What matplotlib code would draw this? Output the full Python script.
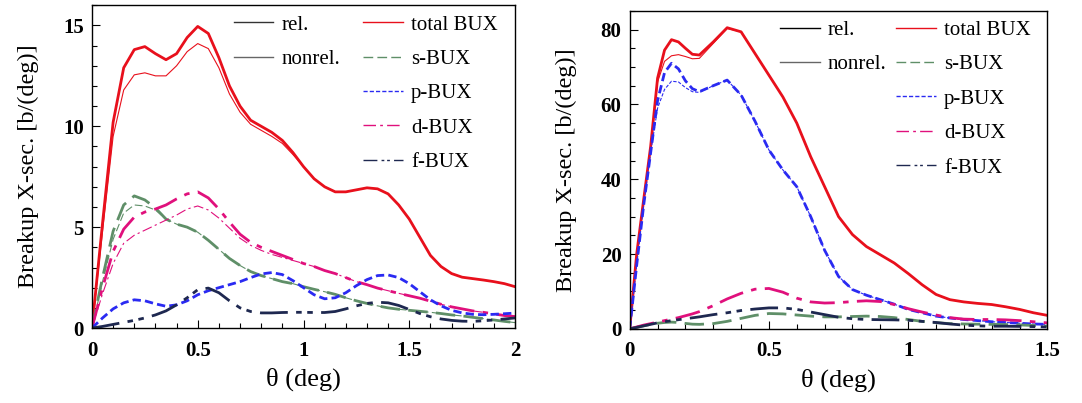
import matplotlib

matplotlib.use("Agg")
import matplotlib.pyplot as plt  # noqa: E402
from matplotlib.lines import Line2D  # noqa: E402
from matplotlib.ticker import MultipleLocator  # noqa: E402

plt.rcParams["font.family"] = ["Liberation Serif", "DejaVu Serif"]

# ---- left panel data (theta in deg, b/deg) ----
theta_l = [0, 0.05, 0.1, 0.15, 0.2, 0.25, 0.3, 0.35, 0.4, 0.45, 0.5, 0.55, 0.6, 0.65,
           0.7, 0.75, 0.8, 0.85, 0.9, 0.95, 1.0, 1.05, 1.1, 1.15, 1.2, 1.25, 1.3, 1.35,
           1.4, 1.45, 1.5, 1.55, 1.6, 1.65, 1.7, 1.75, 1.8, 1.85, 1.9, 1.95, 2.0]
total_rel_l = [0, 5.2, 10.2, 12.9, 13.8, 13.95, 13.6, 13.3, 13.6, 14.4, 14.95, 14.6, 13.4, 12.0,
               11.0, 10.3, 10.0, 9.7, 9.3, 8.7, 8.0, 7.4, 7.0, 6.75, 6.75, 6.85, 6.95, 6.9,
               6.65, 6.1, 5.4, 4.5, 3.6, 3.05, 2.7, 2.52, 2.45, 2.38, 2.3, 2.2, 2.05]
total_non_l = [0, 4.8, 9.5, 11.8, 12.55, 12.65, 12.5, 12.5, 13.0, 13.7, 14.1, 13.85, 12.9, 11.6,
               10.7, 10.1, 9.8, 9.5, 9.15, 8.6, 8.0, 7.4, 7.0, 6.75, 6.75, 6.85, 6.95, 6.9,
               6.65, 6.1, 5.4, 4.5, 3.6, 3.05, 2.7, 2.52, 2.45, 2.38, 2.3, 2.2, 2.05]
s_rel_l = [0, 2.5, 4.8, 6.1, 6.55, 6.35, 5.95, 5.4, 5.15, 5.0, 4.75, 4.35, 3.9, 3.45,
           3.1, 2.8, 2.6, 2.45, 2.3, 2.2, 2.05, 1.92, 1.8, 1.67, 1.5, 1.35, 1.22, 1.1,
           1.0, 0.93, 0.88, 0.83, 0.78, 0.72, 0.65, 0.6, 0.53, 0.47, 0.4, 0.33, 0.27]
s_non_l = [0, 2.3, 4.4, 5.7, 6.1, 6.05, 5.85, 5.4, 5.15, 5.0, 4.75, 4.35, 3.9, 3.45,
           3.1, 2.8, 2.6, 2.45, 2.3, 2.2, 2.05, 1.92, 1.8, 1.67, 1.5, 1.35, 1.22, 1.1,
           1.0, 0.93, 0.88, 0.83, 0.78, 0.72, 0.65, 0.6, 0.53, 0.47, 0.4, 0.33, 0.27]
p_rel_l = [0, 0.5, 0.95, 1.25, 1.4, 1.35, 1.2, 1.08, 1.15, 1.35, 1.65, 1.85, 2.0, 2.15,
           2.3, 2.5, 2.68, 2.75, 2.65, 2.35, 2.0, 1.65, 1.45, 1.5, 1.75, 2.1, 2.4, 2.6,
           2.63, 2.5, 2.2, 1.8, 1.4, 1.1, 0.88, 0.75, 0.68, 0.66, 0.68, 0.71, 0.74]
d_rel_l = [0, 2.0, 3.8, 4.9, 5.5, 5.75, 5.9, 6.1, 6.4, 6.65, 6.75, 6.45, 5.9, 5.25,
           4.65, 4.25, 4.0, 3.8, 3.6, 3.4, 3.2, 3.05, 2.85, 2.7, 2.5, 2.3, 2.15, 1.98,
           1.85, 1.72, 1.6, 1.48, 1.33, 1.18, 1.05, 0.95, 0.85, 0.78, 0.7, 0.62, 0.57]
d_non_l = [0, 1.7, 3.2, 4.2, 4.6, 4.85, 5.1, 5.35, 5.6, 5.9, 6.05, 5.85, 5.45, 4.95,
           4.45, 4.1, 3.85, 3.65, 3.5, 3.35, 3.2, 3.05, 2.85, 2.7, 2.5, 2.3, 2.15, 1.98,
           1.85, 1.72, 1.6, 1.48, 1.33, 1.18, 1.05, 0.95, 0.85, 0.78, 0.7, 0.62, 0.57]
f_rel_l = [0, 0.08, 0.18, 0.28, 0.38, 0.5, 0.65, 0.85, 1.15, 1.5, 1.9, 1.98, 1.75, 1.35,
           1.0, 0.82, 0.75, 0.75, 0.77, 0.78, 0.78, 0.77, 0.77, 0.82, 0.95, 1.1, 1.22, 1.28,
           1.25, 1.12, 0.92, 0.72, 0.56, 0.45, 0.38, 0.34, 0.33, 0.36, 0.4, 0.45, 0.5]

# ---- right panel data ----
theta_r = [0, 0.025, 0.05, 0.075, 0.1, 0.125, 0.15, 0.175, 0.2, 0.225, 0.25, 0.3, 0.35,
           0.4, 0.45, 0.5, 0.55, 0.6, 0.65, 0.7, 0.75, 0.8, 0.85, 0.9, 0.95, 1.0, 1.05,
           1.1, 1.15, 1.2, 1.25, 1.3, 1.35, 1.4, 1.45, 1.5]
total_rel_r = [0, 20, 34.5, 48.7, 67, 74.5, 77.3, 76.7, 75.0, 73.4, 73.2, 76.7, 80.5,
               79.4, 73.6, 67.8, 62, 55, 46, 38, 30, 25.2, 22, 19.8, 17.6, 14.8, 11.8,
               9.2, 7.8, 7.2, 6.8, 6.5, 5.9, 5.2, 4.3, 3.6]
total_non_r = [0, 20, 34.5, 48.7, 66, 71.5, 73.0, 73.3, 72.8, 72.2, 72.3, 76.3, 80.3,
               79.4, 73.6, 67.8, 62, 55, 46, 38, 30, 25.2, 22, 19.8, 17.6, 14.8, 11.8,
               9.2, 7.8, 7.2, 6.8, 6.5, 5.9, 5.2, 4.3, 3.6]
p_rel_r = [0, 17, 33, 47, 61, 68.5, 71, 69.5, 66.3, 64.2, 63.4, 65.0, 66.5,
           62.5, 55.5, 47.8, 42.5, 38, 30, 21, 14, 10.5, 9.0, 7.8, 6.6, 5.2, 4.3,
           3.4, 2.9, 2.5, 2.2, 1.9, 1.7, 1.5, 1.3, 1.2]
p_non_r = [0, 17, 33, 47, 59, 64, 66.2, 66.0, 64.5, 63.4, 63.2, 65.0, 66.5,
           62.5, 55.5, 47.8, 42.5, 38, 30, 21, 14, 10.5, 9.0, 7.8, 6.6, 5.2, 4.3,
           3.4, 2.9, 2.5, 2.2, 1.9, 1.7, 1.5, 1.3, 1.2]
s_rel_r = [0, 0.4, 0.8, 1.2, 1.5, 1.7, 1.8, 1.7, 1.45, 1.25, 1.2, 1.4, 2.0,
           2.8, 3.6, 4.1, 4.0, 3.7, 3.4, 3.2, 3.2, 3.3, 3.4, 3.3, 3.0, 2.5, 2.0,
           1.65, 1.4, 1.3, 1.25, 1.2, 1.15, 1.05, 0.9, 0.7]
d_rel_r = [0, 0.5, 1.0, 1.4, 1.8, 2.2, 2.6, 3.0, 3.5, 4.0, 4.6, 6.2, 8.0,
           9.5, 10.6, 10.8, 9.8, 8.2, 7.2, 6.9, 7.0, 7.3, 7.5, 7.3, 6.5, 5.4, 4.5,
           3.7, 3.0, 2.6, 2.5, 2.5, 2.4, 2.2, 1.9, 1.6]
f_rel_r = [0, 0.4, 0.8, 1.2, 1.6, 1.9, 2.2, 2.45, 2.7, 2.95, 3.2, 3.8, 4.3,
           4.9, 5.3, 5.6, 5.6, 5.2, 4.5, 3.8, 3.1, 2.7, 2.5, 2.45, 2.4, 2.3, 2.0,
           1.7, 1.3, 1.0, 0.8, 0.7, 0.7, 0.65, 0.6, 0.5]

RED = "#e8101c"
GREEN = "#5f8f68"
BLUE = "#2a2af2"
MAGENTA = "#e0107c"
NAVY = "#1e2850"

STY = {
    "total": dict(color=RED, linestyle="-"),
    "s": dict(color=GREEN, linestyle=(0, (7, 3))),
    "p": dict(color=BLUE, linestyle=(0, (3, 1.5))),
    "d": dict(color=MAGENTA, linestyle=(0, (9, 3, 2, 3))),
    "f": dict(color=NAVY, linestyle=(0, (10, 3, 2, 2, 2, 3))),
}
LW_REL = 2.0
LW_NON = 0.8


def style_axes(ax, xmax, ymax, xmajor, ymajor, yminor):
    ax.set_xlim(0, xmax)
    ax.set_ylim(0, ymax)
    ax.xaxis.set_major_locator(MultipleLocator(xmajor))
    ax.xaxis.set_minor_locator(MultipleLocator(0.1))
    ax.yaxis.set_major_locator(MultipleLocator(ymajor))
    ax.yaxis.set_minor_locator(MultipleLocator(yminor))
    ax.tick_params(which="both", direction="in", top=False, right=False)
    ax.tick_params(which="major", length=6, width=0.8, labelsize=15)
    ax.tick_params(axis="x", which="major", pad=9)
    ax.tick_params(axis="y", which="major", pad=6)
    ax.tick_params(which="minor", length=3.5, width=0.8)
    for lab in ax.get_xticklabels() + ax.get_yticklabels():
        lab.set_fontweight("bold")
    for sp in ax.spines.values():
        sp.set_linewidth(1.0)
    ax.xaxis.set_major_formatter(plt.FuncFormatter(lambda v, _: f"{v:g}"))
    ax.set_xlabel("θ (deg)", fontsize=19, labelpad=5)
    ax.set_ylabel("Breakup X-sec. [b/(deg)]", fontsize=17.5, labelpad=17)


def add_legend(ax, rel_color, anchor, colspace):
    blank = Line2D([], [], color="none")
    handles = [
        Line2D([], [], color=rel_color, lw=1.0),
        Line2D([], [], color="#666666", lw=1.0),
        blank, blank, blank,
        Line2D([], [], lw=1.0, **STY["total"]),
        Line2D([], [], lw=1.0, **STY["s"]),
        Line2D([], [], lw=1.0, **STY["p"]),
        Line2D([], [], lw=1.0, **STY["d"]),
        Line2D([], [], lw=1.0, **STY["f"]),
    ]
    labels = ["rel.", "nonrel.", "", "", "", "total BUX", "s-BUX", "p-BUX", "d-BUX", "f-BUX"]
    ax.legend(handles, labels, ncol=2, loc="upper left", bbox_to_anchor=anchor,
              frameon=False, fontsize=15, handlelength=1.9, handletextpad=0.4,
              columnspacing=colspace, labelspacing=0.71, borderpad=0, borderaxespad=0)


fig = plt.figure(figsize=(10.82, 4.03), dpi=100)
ax1 = fig.add_axes([0.085, 0.186, 0.391, 0.801])
ax2 = fig.add_axes([0.582, 0.184, 0.386, 0.789])

# left panel
ax1.plot(theta_l, total_non_l, lw=LW_NON, **STY["total"])
ax1.plot(theta_l, total_rel_l, lw=LW_REL, **STY["total"])
ax1.plot(theta_l, s_non_l, lw=LW_NON, **STY["s"])
ax1.plot(theta_l, s_rel_l, lw=LW_REL, **STY["s"])
ax1.plot(theta_l, d_non_l, lw=LW_NON, **STY["d"])
ax1.plot(theta_l, d_rel_l, lw=LW_REL, **STY["d"])
ax1.plot(theta_l, p_rel_l, lw=LW_REL, **STY["p"])
ax1.plot(theta_l, f_rel_l, lw=LW_REL, **STY["f"])
style_axes(ax1, 2.0, 16, 0.5, 5, 1)
add_legend(ax1, "#333333", (0.335, 0.97), 1.1)

# right panel
ax2.plot(theta_r, total_non_r, lw=LW_NON, **STY["total"])
ax2.plot(theta_r, total_rel_r, lw=LW_REL, **STY["total"])
ax2.plot(theta_r, p_non_r, lw=LW_NON, **STY["p"])
ax2.plot(theta_r, p_rel_r, lw=LW_REL, **STY["p"])
ax2.plot(theta_r, s_rel_r, lw=LW_REL, **STY["s"])
ax2.plot(theta_r, d_rel_r, lw=LW_REL, **STY["d"])
ax2.plot(theta_r, f_rel_r, lw=LW_REL, **STY["f"])
style_axes(ax2, 1.5, 85, 0.5, 20, 5)
add_legend(ax2, "black", (0.36, 0.97), 0.45)

fig.savefig("out.png", dpi=100)
plt.close(fig)
